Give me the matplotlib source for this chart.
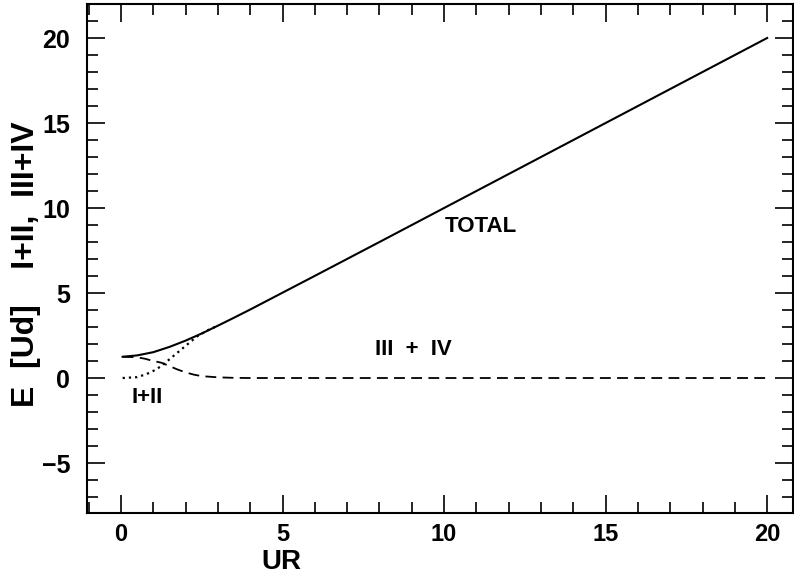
import numpy as np
import matplotlib
matplotlib.use("Agg")
import matplotlib.pyplot as plt
from matplotlib.ticker import MultipleLocator

plt.rcParams['font.family'] = ['Liberation Sans', 'DejaVu Sans']
plt.rcParams['font.weight'] = 'bold'

# TOTAL (solid)
total_x = [0.05, 0.5, 1.0, 1.5, 2.0, 2.5, 3.0, 3.5, 4.0, 5.0, 6.0, 8.0, 10.0, 12.0, 15.0, 20.0]
total_y = [1.25, 1.33, 1.52, 1.83, 2.2, 2.62, 3.08, 3.55, 4.03, 5.02, 6.01, 8.0, 10.0, 12.0, 15.0, 20.0]

# III + IV (dashed)
d34_x = [0.05, 0.5, 0.75, 1.0, 1.25, 1.5, 1.75, 2.0, 2.25, 2.5, 3.0, 3.5, 4.0, 20.0]
d34_y = [1.25, 1.22, 1.13, 1.0, 0.9, 0.7, 0.5, 0.33, 0.2, 0.11, 0.04, 0.01, 0.0, 0.0]

# I + II (dotted)
d12_x = [0.05, 0.5, 0.8, 1.1, 1.36, 1.72, 2.03, 2.34, 2.65, 3.0]
d12_y = [0.0, 0.05, 0.24, 0.51, 0.88, 1.45, 1.94, 2.43, 2.78, 3.08]

xticks = [0, 5, 10, 15, 20]
yticks = [-5, 0, 5, 10, 15, 20]
ytick_labels = ['\u22125', '0', '5', '10', '15', '20']

fig = plt.figure(figsize=(7.94, 5.78), dpi=100, facecolor='white')
ax = fig.add_axes([87/794, 1 - 513/578, 706/794, 509/578])

ax.plot(total_x, total_y, color='black', lw=1.5)
ax.plot(d34_x, d34_y, color='black', lw=1.3, linestyle=(0, (6, 3.5)))
ax.plot(d12_x, d12_y, color='black', lw=1.6, linestyle=(0, (1, 1.8)))

ax.set_xlim(-1.053, 20.8)
ax.set_ylim(-7.94, 22.0)

ax.xaxis.set_major_locator(MultipleLocator(5))
ax.xaxis.set_minor_locator(MultipleLocator(1))
ax.yaxis.set_major_locator(MultipleLocator(5))
ax.yaxis.set_minor_locator(MultipleLocator(1))
ax.tick_params(which='both', direction='in', top=True, right=True, width=1.2, colors='black')
ax.tick_params(which='major', length=13)
ax.tick_params(which='minor', length=8)
ax.tick_params(axis='x', which='major', pad=7)
ax.tick_params(axis='y', which='major', pad=12)
ax.set_xticks(xticks)
ax.set_yticks(yticks)
ax.set_yticklabels(ytick_labels)
narrow = ['Liberation Sans Narrow', 'Liberation Sans', 'DejaVu Sans']
for lab in ax.get_xticklabels():
    lab.set_fontweight('bold')
    lab.set_family(narrow)
    lab.set_fontsize(17)
for lab in ax.get_yticklabels():
    lab.set_fontweight('bold')
    lab.set_family(narrow)
    lab.set_fontsize(18)

for sp in ax.spines.values():
    sp.set_linewidth(1.5)

ax.text(11.15, 8.94, 'TOTAL', fontsize=16, fontweight='bold', ha='center', va='center')
ax.text(9.06, 1.65, 'III  +  IV', fontsize=16, fontweight='bold', ha='center', va='center')
ax.text(0.8, -1.15, 'I+II', fontsize=16, fontweight='bold', ha='center', va='center')

fig.text(26/794, 1 - 264/578, 'E  [Ud]    I+II,  III+IV', rotation=90, fontsize=23,
         fontweight='bold', ha='center', va='center')
fig.text(281/794, 1 - 562/578, 'UR', fontsize=20, fontweight='bold', ha='center', va='center')

fig.savefig('out.png', dpi=100, facecolor='white')
